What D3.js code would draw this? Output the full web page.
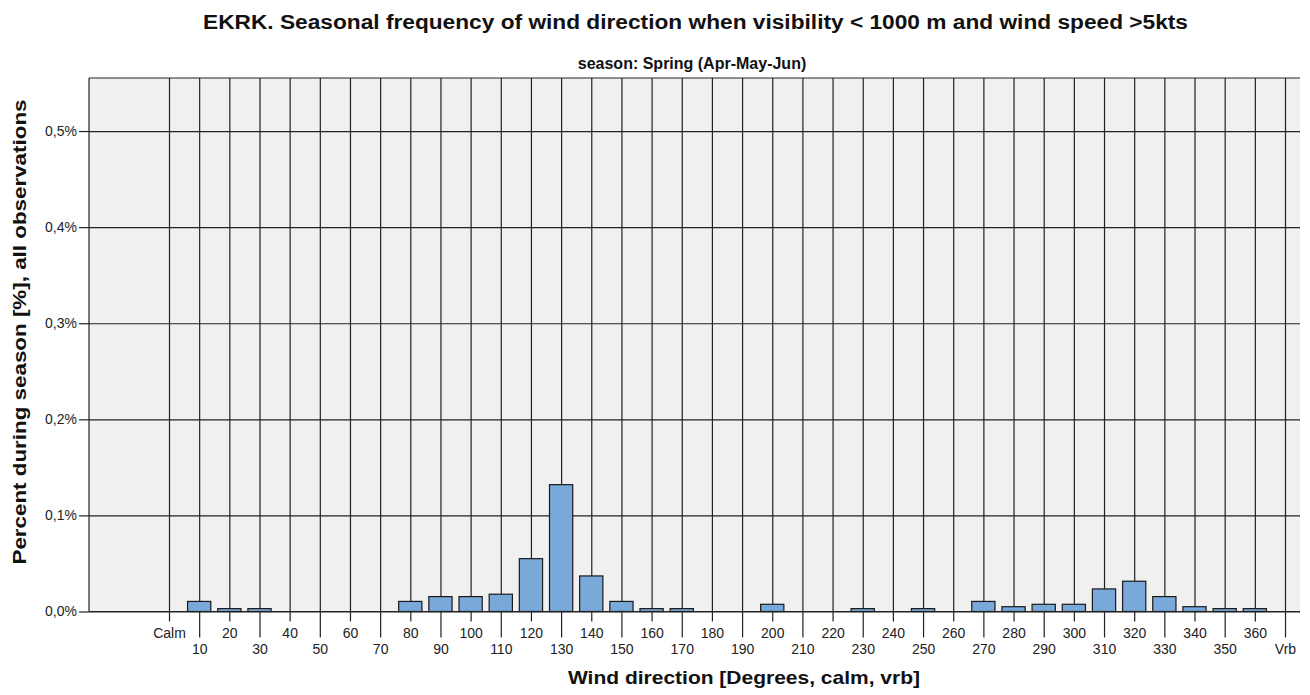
<!DOCTYPE html>
<html>
<head>
<meta charset="utf-8">
<script src="https://cdn.jsdelivr.net/npm/d3@7"></script>
<style>
  html, body { margin: 0; padding: 0; background: #fff; }
  text { font-family: "Liberation Sans", Arial, sans-serif; }
</style>
</head>
<body>
<svg id="chart" width="1310" height="695"></svg>
<script>
// wind direction categories and percent of observations
const directions = ["Calm", "10", "20", "30", "40", "50", "60", "70", "80", "90", "100",
    "110", "120", "130", "140", "150", "160", "170", "180", "190", "200", "210", "220",
    "230", "240", "250", "260", "270", "280", "290", "300", "310", "320", "330", "340",
    "350", "360", "Vrb"];
const percents = [0, 0.0105, 0.003, 0.003, 0, 0, 0, 0, 0.0105, 0.0155, 0.0155,
    0.018, 0.055, 0.132, 0.037, 0.0105, 0.003, 0.003, 0, 0, 0.0075, 0, 0,
    0.003, 0, 0.003, 0, 0.0105, 0.005, 0.0075, 0.0075, 0.0235, 0.0315, 0.0155, 0.005,
    0.003, 0.003, 0];
const yTicks = [0, 0.1, 0.2, 0.3, 0.4, 0.5];

const title = "EKRK. Seasonal frequency of wind direction when visibility < 1000 m and wind speed >5kts";
const subtitle = "season: Spring (Apr-May-Jun)";

const svg = d3.select("#chart");
const plotLeft = 89, plotRight = 1300, plotTop = 78, plotBottom = 611.5;

const x = d3.scalePoint().domain(directions).range([169, 1285]);
const y = d3.scaleLinear().domain([0, 0.5552]).range([plotBottom, plotTop]);
const barW = x.step() * 0.77;

// plot background
svg.append("rect")
    .attr("x", plotLeft).attr("y", plotTop)
    .attr("width", plotRight - plotLeft).attr("height", plotBottom - plotTop)
    .attr("fill", "#f0f0f0");

// horizontal grid
svg.append("g")
    .attr("transform", `translate(${plotLeft},0)`)
    .call(d3.axisLeft(y).tickValues(yTicks).tickSize(-(plotRight - plotLeft)).tickFormat(""))
    .call(g => g.select(".domain").remove())
    .selectAll("line").attr("stroke", "#222").attr("stroke-width", 1.2);

// vertical grid
svg.append("g")
    .attr("transform", `translate(0,${plotBottom})`)
    .call(d3.axisBottom(x).tickSize(-(plotBottom - plotTop)).tickFormat(""))
    .call(g => g.select(".domain").remove())
    .selectAll("line").attr("stroke", "#222").attr("stroke-width", 1.2);

// borders top and left
svg.append("line").attr("x1", plotLeft).attr("x2", plotRight).attr("y1", plotTop).attr("y2", plotTop)
    .attr("stroke", "#222").attr("stroke-width", 1.2);
svg.append("line").attr("x1", plotLeft).attr("x2", plotLeft).attr("y1", plotTop).attr("y2", plotBottom)
    .attr("stroke", "#222").attr("stroke-width", 1.2);

// bars
svg.append("g")
    .selectAll("rect")
    .data(directions.map((d, i) => ({ dir: d, value: percents[i] })))
    .join("rect")
    .attr("x", d => x(d.dir) - barW / 2)
    .attr("y", d => y(d.value))
    .attr("width", barW)
    .attr("height", d => y(0) - y(d.value))
    .attr("fill", "#79a9d9")
    .attr("stroke", "#1a1a1a")
    .attr("stroke-width", 1.2);

// y axis
svg.append("g")
    .attr("transform", `translate(${plotLeft},0)`)
    .call(d3.axisLeft(y).tickValues(yTicks).tickSize(10).tickPadding(2)
        .tickFormat(d => d.toFixed(1).replace(".", ",") + "%"))
    .call(g => g.select(".domain").remove())
    .call(g => g.selectAll("line").attr("stroke", "#222").attr("stroke-width", 1.2))
    .call(g => g.selectAll("text").attr("font-size", 14).attr("fill", "#222")
        .attr("font-family", "'Liberation Sans', Arial, sans-serif"));

// x axis with staggered labels
const xAxis = svg.append("g")
    .attr("transform", `translate(0,${plotBottom})`)
    .call(d3.axisBottom(x).tickSize(10))
    .call(g => g.select(".domain").remove());
xAxis.selectAll("line")
    .attr("stroke", "#222").attr("stroke-width", 1.2)
    .attr("y2", (d, i) => i % 2 ? 26 : 10);
xAxis.selectAll("text")
    .attr("font-size", 14).attr("fill", "#222")
    .attr("font-family", "'Liberation Sans', Arial, sans-serif")
    .attr("dy", null)
    .attr("y", (d, i) => i % 2 ? 42 : 26.5);

// baseline
svg.append("line").attr("x1", plotLeft).attr("x2", plotRight).attr("y1", plotBottom).attr("y2", plotBottom)
    .attr("stroke", "#222").attr("stroke-width", 1.2);

// titles
svg.append("text")
    .attr("x", 695.5).attr("y", 29)
    .attr("text-anchor", "middle")
    .attr("font-size", 19.5).attr("font-weight", "bold").attr("fill", "#111")
    .attr("textLength", 985).attr("lengthAdjust", "spacingAndGlyphs")
    .text(title);

svg.append("text")
    .attr("x", 692).attr("y", 69)
    .attr("text-anchor", "middle")
    .attr("font-size", 16).attr("font-weight", "bold").attr("fill", "#111")
    .text(subtitle);

svg.append("text")
    .attr("x", 744).attr("y", 684)
    .attr("text-anchor", "middle")
    .attr("font-size", 18.5).attr("font-weight", "bold").attr("fill", "#111")
    .attr("textLength", 352).attr("lengthAdjust", "spacingAndGlyphs")
    .text("Wind direction [Degrees, calm, vrb]");

svg.append("text")
    .attr("transform", `translate(26,332) rotate(-90)`)
    .attr("text-anchor", "middle")
    .attr("font-size", 18.5).attr("font-weight", "bold").attr("fill", "#111")
    .attr("textLength", 465).attr("lengthAdjust", "spacingAndGlyphs")
    .text("Percent during season [%], all observations");
</script>
</body>
</html>
